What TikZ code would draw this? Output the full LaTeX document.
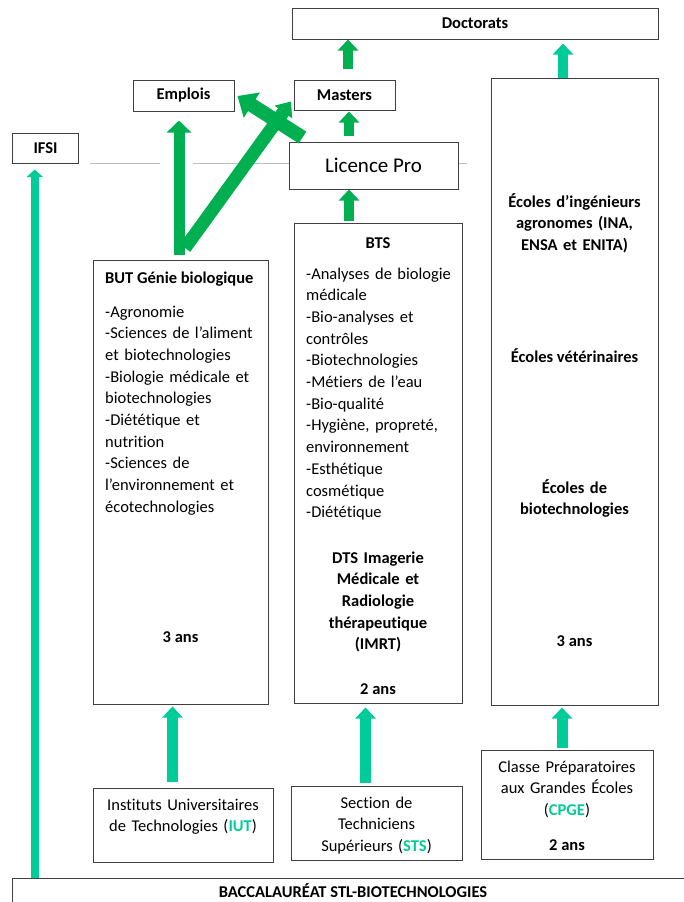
\documentclass[tikz,border=0pt]{standalone}
\usepackage{fontspec}
\setmainfont{Carlito}[Ligatures=NoCommon]
\usetikzlibrary{calc,positioning,arrows.meta}

\definecolor{vert}{HTML}{00B050}
\definecolor{turquoise}{HTML}{00CC99}

\tikzset{
  box/.style={draw=black!75,line width=1pt,fill=white,inner sep=0pt},
  txt/.style={inner sep=0pt,align=left,anchor=base west},
  ctxt/.style={inner sep=0pt,align=center,anchor=base},
  gras/.style={execute at begin node=\bfseries},
  fv/.style={draw=vert,line width=10pt,-{Triangle[width=20pt,length=11pt]}},
  ft/.style={draw=turquoise,line width=11pt,-{Triangle[width=20pt,length=11pt]}},
}

\begin{document}
\begin{tikzpicture}[x=1pt,y=-1pt,font=\fontsize{16.5}{21.7}\selectfont]
\useasboundingbox (0,0) rectangle (684,902);

\coordinate (g1) at (90,163);
\coordinate (g2) at (160,163);
\coordinate (g3) at (193,163);
\coordinate (g4) at (467,163);
\draw[black!25,line width=1pt] (g1) -- (g2) (g3) -- (g4);

% colonnes des fleches
\coordinate (cF) at (34.8,0);
\coordinate (cE) at (179,0);
\coordinate (cI) at (172.5,0);
\coordinate (cM) at (348,0);
\coordinate (cL) at (349,0);
\coordinate (cS) at (365.5,0);
\coordinate (cC) at (562,0);
\coordinate (cD) at (563,0);
\coordinate (vbas) at (185,248);

% boites
\node[box,gras,minimum width=366pt,minimum height=31pt] (doct) at (475,23.5) {Doctorats};
\node[box,gras,minimum width=101pt,minimum height=31pt] (emplois) at (183.5,95.5) {Emplois};
\node[box,gras,minimum width=101pt,minimum height=30pt] (masters) at (344.5,95) {Masters};
\node[box,gras,minimum width=66pt,minimum height=30pt] (ifsi) at (45.5,148) {IFSI};
\node[box,minimum width=169pt,minimum height=47pt,font=\fontsize{21}{25}\selectfont] (lp) at (373.5,165.5) {Licence Pro};
\node[box,minimum width=167pt,minimum height=627pt] (ecoles) at (574.5,391.5) {};
\node[box,minimum width=168pt,minimum height=480pt] (bts) at (378,463) {};
\node[box,minimum width=175pt,minimum height=444pt] (but) at (180.5,482) {};
\node[box,minimum width=180pt,minimum height=74pt] (iut) at (183,825) {};
\node[box,minimum width=171pt,minimum height=74pt] (sts) at (376.5,823) {};
\node[box,minimum width=172pt,minimum height=109pt] (cpge) at (567,804.5) {};
\node[box,minimum width=682pt,minimum height=32pt] (bac) at (353,894) {};
\node[ctxt,gras] (bacT) at (353,897) {BACCALAURÉAT STL-BIOTECHNOLOGIES};

% textes BUT
\node[txt,gras] (butT) at (105,283) {BUT Génie biologique};
\node[txt,text width=160pt] (butL) at (105,317) {-Agronomie\\-Sciences de l’aliment\\et biotechnologies\\-Biologie médicale et\\biotechnologies\\-Diététique et\\nutrition\\-Sciences de\\l’environnement et\\écotechnologies};
\node[ctxt,gras] (butA) at (180.5,642) {3 ans};

% textes BTS
\node[ctxt,gras] (btsT) at (378,248) {BTS};
\node[txt,text width=155pt] (btsL) at (306,279) {-Analyses de biologie\\médicale\\-Bio-analyses et\\contrôles\\-Biotechnologies\\-Métiers de l’eau\\-Bio-qualité\\-Hygiène, propreté,\\environnement\\-Esthétique\\cosmétique\\-Diététique};
\node[ctxt,gras,text width=160pt] (dts) at (378,563) {DTS Imagerie\\Médicale et\\Radiologie\\thérapeutique\\(IMRT)};
\node[ctxt,gras] (btsA) at (378,694) {2 ans};

% textes ecoles
\node[ctxt,gras,text width=160pt] (ing) at (574.5,207) {Écoles d’ingénieurs\\agronomes (INA,\\ENSA et ENITA)};
\node[ctxt,gras] (vet) at (574.5,362) {Écoles vétérinaires};
\node[ctxt,gras,text width=160pt] (biot) at (574.5,493) {Écoles de\\biotechnologies};
\node[ctxt,gras] (ecA) at (574.5,646) {3 ans};

% textes du bas
\node[ctxt,text width=175pt] (iutT) at (183,810) {Instituts Universitaires\\de Technologies ({\color{turquoise}\bfseries IUT})};
\node[ctxt,text width=165pt] (stsT) at (376.5,808) {Section de\\Techniciens\\Supérieurs ({\color{turquoise}\bfseries STS})};
\node[ctxt,text width=165pt] (cpgeT) at (567,772) {Classe Préparatoires\\aux Grandes Écoles\\({\color{turquoise}\bfseries CPGE})};
\node[ctxt,gras] (cpgeA) at (567,850) {2 ans};

% fleches vertes
\draw[fv,shorten <=11pt] (masters.north -| cM) -- (doct.south -| cM);
\draw[fv,shorten <=6pt,shorten >=1pt] (lp.north -| cL) -- (masters.south -| cL);
\draw[fv,shorten <=2pt] (bts.north -| cL) -- (lp.south -| cL);
\draw[fv,draw=turquoise,shorten >=4pt] (ecoles.north -| cD) -- (doct.south -| cD);
\draw[fv,line width=11pt,-{Triangle[width=24pt,length=12pt]},shorten <=5pt,shorten >=9pt] (but.north -| cE) -- (emplois.south -| cE);
\draw[fv,line width=13pt,-{Triangle[width=21pt,length=13pt]}] (vbas) -- ($(masters.west)+(-2.5,6.5)$);
\draw[fv,line width=14pt,-{Triangle[width=29pt,length=17pt]}] ($(lp.north west)+(14,-4)$) -- ($(emplois.east)+(3,0.5)$);

% fleches turquoise
\draw[ft,shorten <=6pt,shorten >=2pt] (iut.north -| cI) -- (but.south -| cI);
\draw[ft,shorten <=3pt,shorten >=4pt] (sts.north -| cS) -- (bts.south -| cS);
\draw[ft,shorten <=2pt,shorten >=2pt] (cpge.north -| cC) -- (ecoles.south -| cC);
\draw[ft,line width=7.7pt,-{Triangle[width=16pt,length=7.5pt]},shorten >=6pt] (bac.north -| cF) -- (ifsi.south -| cF);
\end{tikzpicture}
\end{document}
